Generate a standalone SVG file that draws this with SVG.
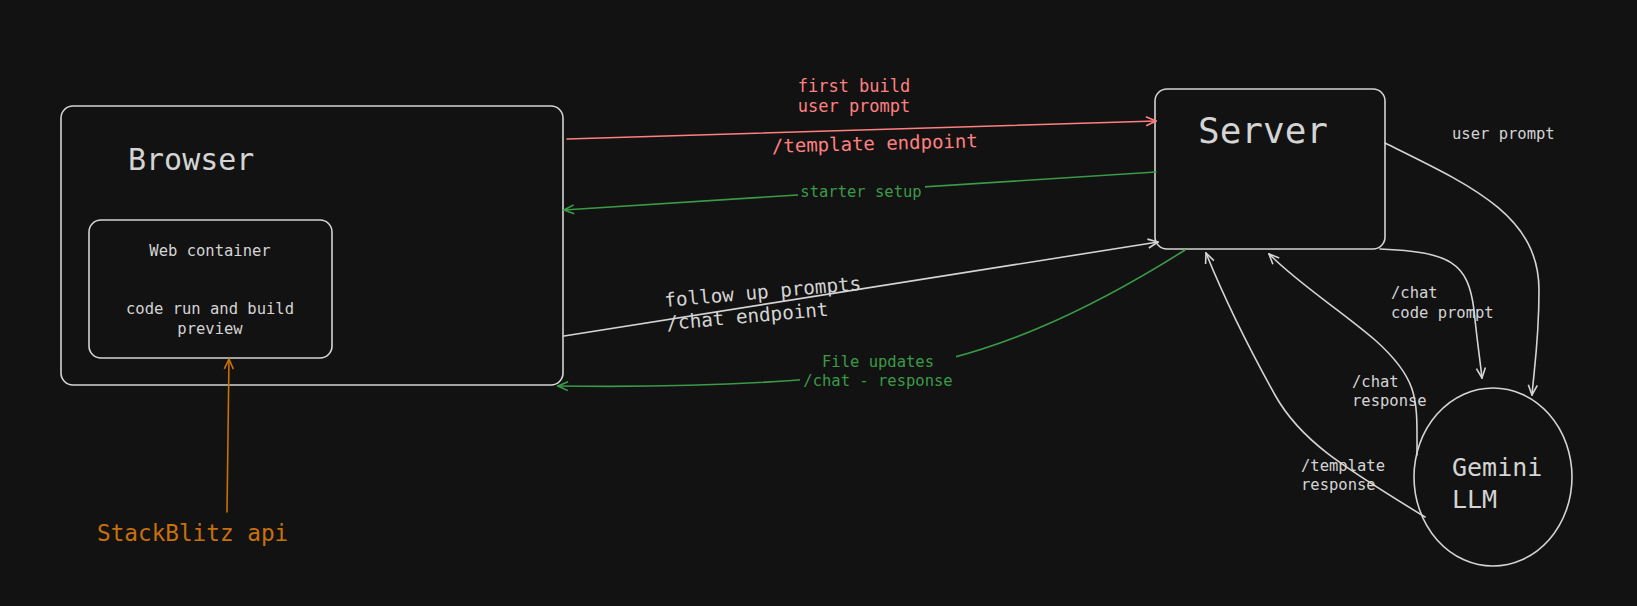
<svg xmlns="http://www.w3.org/2000/svg" width="1637" height="606" viewBox="0 0 1637 606">
<style>
.box{fill:#121212;stroke:#d4d4d4;stroke-width:1.6}
.t{font-family:"DejaVu Sans Mono","Liberation Mono",monospace;fill:#d4d4d4}
.c{fill:none;stroke-width:1.6;stroke-linecap:round}
.w{stroke:#d4d4d4}
.r{stroke:#ff8080}
.g{stroke:#3a9a48}
.o{stroke:#c8700a}
</style>
<defs>
<marker id="aw" viewBox="0 0 12 12" refX="11" refY="6" markerWidth="12" markerHeight="12" orient="auto" markerUnits="userSpaceOnUse"><path d="M1,1.5 L11,6 L1,10.5" fill="none" stroke="#d4d4d4" stroke-width="1.6"/></marker>
<marker id="ar" viewBox="0 0 12 12" refX="11" refY="6" markerWidth="12" markerHeight="12" orient="auto" markerUnits="userSpaceOnUse"><path d="M1,1.5 L11,6 L1,10.5" fill="none" stroke="#ff8080" stroke-width="1.6"/></marker>
<marker id="ag" viewBox="0 0 12 12" refX="11" refY="6" markerWidth="12" markerHeight="12" orient="auto" markerUnits="userSpaceOnUse"><path d="M1,1.5 L11,6 L1,10.5" fill="none" stroke="#3a9a48" stroke-width="1.6"/></marker>
<marker id="ao" viewBox="0 0 12 12" refX="11" refY="6" markerWidth="12" markerHeight="12" orient="auto" markerUnits="userSpaceOnUse"><path d="M1,1.5 L11,6 L1,10.5" fill="none" stroke="#c8700a" stroke-width="1.6"/></marker>
</defs>
<rect width="1637" height="606" fill="#121212"/>

<g id="browser">
<rect class="box" x="61" y="106" width="502" height="279" rx="12"/>
<text class="t" x="128" y="170" font-size="30">Browser</text>
</g>
<g id="webcontainer">
<rect class="box" x="89" y="220" width="243" height="138" rx="12"/>
<text class="t" x="210" y="256" font-size="15.5" text-anchor="middle">Web container</text>
<text class="t" x="210" y="314" font-size="15.5" text-anchor="middle">code run and build</text>
<text class="t" x="210" y="334" font-size="15.5" text-anchor="middle">preview</text>
</g>
<g id="server">
<rect class="box" x="1155" y="89" width="230" height="160" rx="12"/>
<text class="t" x="1198" y="143" font-size="36">Server</text>
</g>
<g id="gemini">
<ellipse class="box" cx="1493" cy="477" rx="79" ry="89"/>
<text class="t" x="1452" y="476" font-size="25">Gemini</text>
<text class="t" x="1452" y="508" font-size="25">LLM</text>
</g>
<g id="stackblitz">
<text class="t" x="97" y="541" font-size="22.7" style="fill:#c8700a">StackBlitz api</text>
</g>

<g id="connectors">
<line class="c r" x1="567" y1="139" x2="1156" y2="121" marker-end="url(#ar)"/>
<line class="c g" x1="1156" y1="172" x2="564" y2="210" marker-end="url(#ag)"/>
<line class="c w" x1="564" y1="336" x2="1158" y2="242" marker-end="url(#aw)"/>
<path class="c g" d="M1185,250 C1090,310 990,358 880,372 C800,382 700,388 558,386" marker-end="url(#ag)"/>
<line class="c o" x1="227" y1="512" x2="229" y2="359" marker-end="url(#ao)"/>
<path class="c w" d="M1385,143 C1470,185 1539,215 1539,290 C1539,340 1534,370 1532,395" marker-end="url(#aw)"/>
<path class="c w" d="M1380,249 C1450,252 1468,262 1474,310 C1477,340 1480,360 1482,378" marker-end="url(#aw)"/>
<path class="c w" d="M1417,455 C1417,400 1420,380 1375,340 C1340,310 1300,285 1269,254" marker-end="url(#aw)"/>
<path class="c w" d="M1425,517 C1340,465 1300,440 1275,395 C1250,350 1225,300 1206,253" marker-end="url(#aw)"/>

<text class="t" x="854" y="92" font-size="17" text-anchor="middle" style="fill:#ff8080">first build</text>
<text class="t" x="854" y="112" font-size="17" text-anchor="middle" style="fill:#ff8080">user prompt</text>
<text class="t" x="875" y="150" font-size="19" text-anchor="middle" transform="rotate(-1.5 875 150)" style="fill:#ff8080">/template endpoint</text>

<rect x="798" y="182" width="127" height="20" fill="#121212"/>
<text class="t" x="861" y="197" font-size="15.5" text-anchor="middle" style="fill:#3a9a48">starter setup</text>

<text class="t" x="665" y="307" font-size="19.3" transform="rotate(-5 665 307)">follow up prompts<tspan x="665" dy="23">/chat endpoint</tspan></text>

<rect x="800" y="352" width="156" height="40" fill="#121212"/>
<text class="t" x="878" y="367" font-size="15.5" text-anchor="middle" style="fill:#3a9a48">File updates</text>
<text class="t" x="878" y="386" font-size="15.5" text-anchor="middle" style="fill:#3a9a48">/chat - response</text>

<text class="t" x="1452" y="139" font-size="15.5">user prompt</text>
<text class="t" x="1391" y="298" font-size="15.5">/chat</text>
<text class="t" x="1391" y="318" font-size="15.5">code prompt</text>
<text class="t" x="1352" y="387" font-size="15.5">/chat</text>
<text class="t" x="1352" y="406" font-size="15.5">response</text>
<text class="t" x="1301" y="471" font-size="15.5">/template</text>
<text class="t" x="1301" y="490" font-size="15.5">response</text>
</g>
</svg>
